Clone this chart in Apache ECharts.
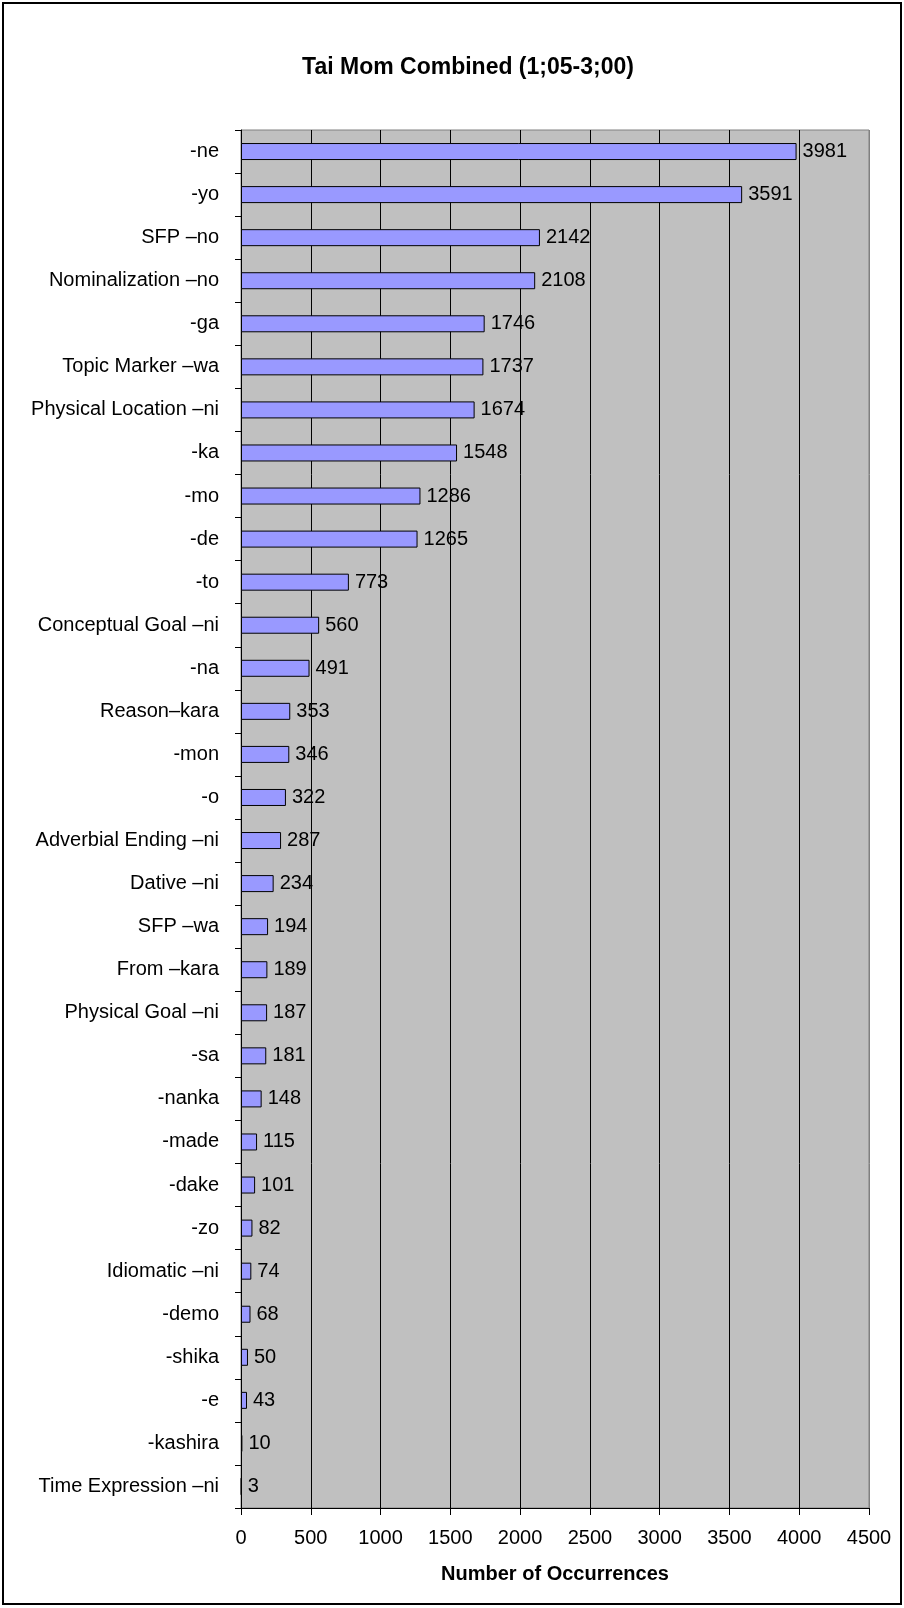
<!DOCTYPE html>
<html>
<head>
<meta charset="utf-8">
<script src="https://cdn.jsdelivr.net/npm/echarts@6/dist/echarts.min.js"></script>
<style>
  html, body { margin: 0; padding: 0; background: #fff; }
  #chart { width: 904px; height: 1608px; }
</style>
</head>
<body>
<div id="chart"></div>
<script>
// Particle / ending categories, top to bottom
const categories = [
  '-ne', '-yo', 'SFP \u2013no', 'Nominalization \u2013no', '-ga', 'Topic Marker \u2013wa',
  'Physical Location \u2013ni', '-ka', '-mo', '-de', '-to', 'Conceptual Goal \u2013ni',
  '-na', 'Reason\u2013kara', '-mon', '-o', 'Adverbial Ending \u2013ni', 'Dative \u2013ni',
  'SFP \u2013wa', 'From \u2013kara', 'Physical Goal \u2013ni', '-sa', '-nanka', '-made',
  '-dake', '-zo', 'Idiomatic \u2013ni', '-demo', '-shika', '-e', '-kashira', 'Time Expression \u2013ni'
];

// Number of occurrences per category
const occurrences = [
  3981, 3591, 2142, 2108, 1746, 1737,
  1674, 1548, 1286, 1265, 773, 560,
  491, 353, 346, 322, 287, 234,
  194, 189, 187, 181, 148, 115,
  101, 82, 74, 68, 50, 43, 10, 3
];

const chartTitle = 'Tai Mom Combined (1;05-3;00)';
const xAxisTitle = 'Number of Occurrences';
const xMin = 0, xMax = 4500, xStep = 500;

const FONT = "'Liberation Sans', Arial, sans-serif";

const chart = echarts.init(document.getElementById('chart'), null, { renderer: 'canvas' });

// grid lines black, the last one (right edge) matches the plot border
const splitColors = [];
for (let v = xMin; v <= xMax; v += xStep) splitColors.push(v === xMax ? '#808080' : '#000000');

chart.setOption({
  backgroundColor: '#ffffff',
  animation: false,
  title: {
    text: chartTitle,
    left: 463,
    top: 51,
    textAlign: 'center',
    textStyle: { fontFamily: FONT, fontSize: 23, fontWeight: 'bold', color: '#000' }
  },
  grid: {
    left: 241, right: 35, top: 130, bottom: 100,
    show: true,
    backgroundColor: '#C0C0C0',
    borderColor: '#808080',
    borderWidth: 1
  },
  xAxis: {
    type: 'value',
    min: xMin, max: xMax, interval: xStep,
    name: xAxisTitle,
    nameLocation: 'middle',
    nameGap: 56,
    nameTextStyle: { fontFamily: FONT, fontSize: 20, fontWeight: 'bold', color: '#000' },
    axisLine: { show: true, lineStyle: { color: '#000', width: 1 } },
    axisTick: { show: true, length: 7, lineStyle: { color: '#000' } },
    axisLabel: {
      fontFamily: FONT, fontSize: 20, color: '#000', margin: 20,
      formatter: v => String(v)
    },
    splitLine: { show: true, lineStyle: { color: splitColors, width: 1 } }
  },
  yAxis: {
    type: 'category',
    data: categories,
    inverse: true,
    axisLine: { show: true, lineStyle: { color: '#000', width: 1 } },
    axisTick: { show: true, length: 6, lineStyle: { color: '#000' } },
    axisLabel: { fontFamily: FONT, fontSize: 20, color: '#000', margin: 22 },
    splitLine: { show: false }
  },
  series: [{
    type: 'bar',
    data: occurrences,
    barWidth: 17,
    itemStyle: { color: '#9999FF', borderColor: '#000', borderWidth: 1 },
    label: {
      show: true,
      position: 'right',
      distance: 6,
      fontFamily: FONT,
      fontSize: 20,
      color: '#000'
    }
  }],
  graphic: [{
    type: 'rect',
    shape: { x: 3, y: 3, width: 898, height: 1601 },
    style: { fill: 'none', stroke: '#000', lineWidth: 2 },
    silent: true
  }]
});
</script>
</body>
</html>
